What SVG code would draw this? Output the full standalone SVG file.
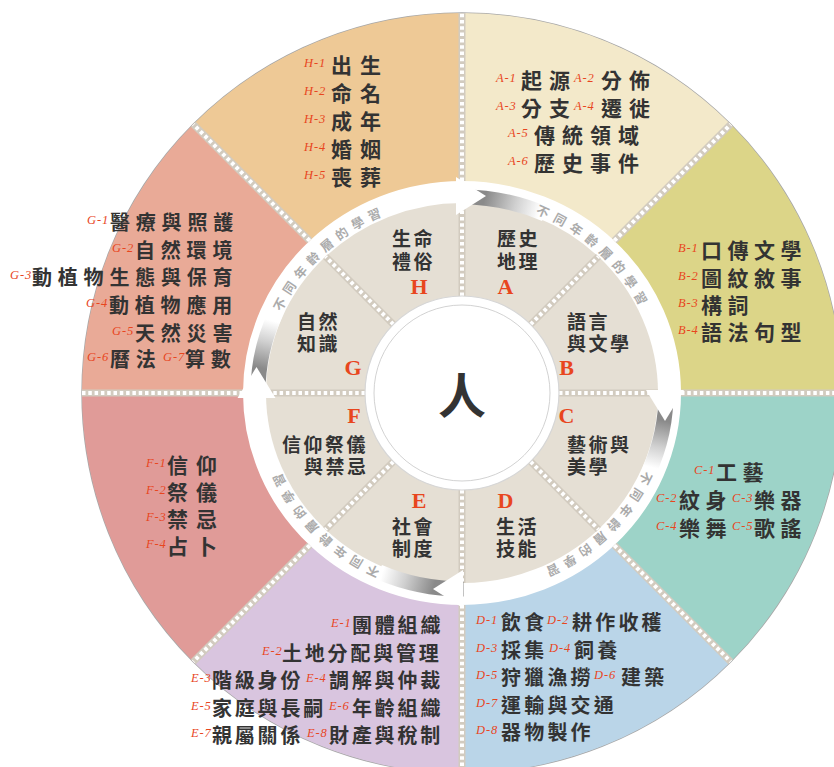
<svg xmlns="http://www.w3.org/2000/svg" xmlns:xlink="http://www.w3.org/1999/xlink" width="834" height="767" viewBox="0 0 834 767">
<style>
.t{font-family:"Noto Sans CJK TC","Noto Sans CJK SC",sans-serif;font-weight:700;fill:#333}
.lb{font-family:"Liberation Serif",serif;font-style:italic;font-size:12.5px;fill:#e8461e;letter-spacing:0.9px}
.in{font-size:19px;letter-spacing:2.5px}
.ltr{font-family:"Liberation Serif",serif;font-weight:700;font-size:22px;fill:#e8461e;text-anchor:middle}
.s28{font-size:21px;letter-spacing:8px}
.s27{font-size:21px;letter-spacing:7px}
.s26{font-size:21px;letter-spacing:5.5px}
.s25{font-size:20px;letter-spacing:5.8px}
.s23{font-size:20px;letter-spacing:3.2px}
.s22{font-size:20px;letter-spacing:2.8px}
.wedge{fill:#e5dfd4}
.sepb{stroke:#d2cbbf;stroke-width:7;fill:none}
.sepd{stroke:#fff;stroke-width:4;stroke-dasharray:3.5 2.8;fill:none}
.arrow{fill:#fff}
.ringt{font-family:"Noto Sans CJK TC",sans-serif;font-weight:700;font-size:12.5px;fill:#ababab;letter-spacing:6px}
</style>
<defs>
<linearGradient id="gT" gradientUnits="userSpaceOnUse" x1="485" y1="197" x2="540" y2="212"><stop offset="0" stop-color="#8a8a8a"/><stop offset="0.55" stop-color="#d0d0d0"/><stop offset="1" stop-color="#fff"/></linearGradient>
<linearGradient id="gR" gradientUnits="userSpaceOnUse" x1="665" y1="421" x2="654" y2="468"><stop offset="0" stop-color="#8a8a8a"/><stop offset="0.55" stop-color="#d0d0d0"/><stop offset="1" stop-color="#fff"/></linearGradient>
<linearGradient id="gB" gradientUnits="userSpaceOnUse" x1="433" y1="589" x2="382" y2="574"><stop offset="0" stop-color="#8a8a8a"/><stop offset="0.55" stop-color="#d0d0d0"/><stop offset="1" stop-color="#fff"/></linearGradient>
<linearGradient id="gL" gradientUnits="userSpaceOnUse" x1="257" y1="367" x2="269" y2="320"><stop offset="0" stop-color="#8a8a8a"/><stop offset="0.55" stop-color="#d0d0d0"/><stop offset="1" stop-color="#fff"/></linearGradient>
<path id="ringPath" d="M462 200 A199 193 0 1 1 462 586 A199 193 0 1 1 462 200 Z"/>
</defs>

<circle cx="462" cy="393" r="380" fill="none" stroke="#a8a8a8" stroke-width="1.4"/>

<g id="node-A">
<path d="M462 13 A380 380 0 0 1 730.70 124.30 L614.3 240.7 A219 212 0 0 0 462 181 Z" fill="#f3e9ca"/>
<path class="wedge" d="M462 393 L462 203 A196 190 0 0 1 598.42 256.58 Z"/>
<text class="t in" x="497" y="246">歷史</text>
<text class="t in" x="497" y="269">地理</text>
<text class="ltr" x="505.5" y="293.5">A</text>
<text class="lb" x="496" y="82">A-1</text><text class="t s27" x="521" y="88">起源</text>
<text class="lb" x="574" y="82">A-2</text><text class="t s27" x="601" y="88">分佈</text>
<text class="lb" x="496" y="110">A-3</text><text class="t s27" x="521" y="116">分支</text>
<text class="lb" x="574" y="110">A-4</text><text class="t s27" x="601" y="116">遷徙</text>
<text class="lb" x="508" y="137">A-5</text><text class="t s27" x="534" y="143">傳統領域</text>
<text class="lb" x="508" y="165">A-6</text><text class="t s27" x="534" y="171">歷史事件</text>
</g>

<g id="node-B">
<path d="M730.70 124.30 A380 380 0 0 1 842 393 L681 393 A219 212 0 0 0 614.3 240.7 Z" fill="#dcd588"/>
<path class="wedge" d="M462 393 L598.42 256.58 A196 190 0 0 1 658 393 Z"/>
<text class="t in" x="567" y="329">語言</text>
<text class="t in" x="567" y="351">與文學</text>
<text class="ltr" x="566.5" y="375">B</text>
<text class="lb" x="678" y="252">B-1</text><text class="t s26" x="701" y="258">口傳文學</text>
<text class="lb" x="678" y="280">B-2</text><text class="t s26" x="701" y="286">圖紋敘事</text>
<text class="lb" x="678" y="307">B-3</text><text class="t s26" x="701" y="313">構詞</text>
<text class="lb" x="678" y="334">B-4</text><text class="t s26" x="701" y="340">語法句型</text>
</g>

<g id="node-C">
<path d="M842 393 A380 380 0 0 1 730.70 661.70 L614.3 545.3 A219 212 0 0 0 681 393 Z" fill="#9dd3c8"/>
<path class="wedge" d="M462 393 L658 393 A196 190 0 0 1 598.42 529.42 Z"/>
<text class="ltr" x="566.5" y="423">C</text>
<text class="t in" x="567" y="452">藝術與</text>
<text class="t in" x="567" y="474">美學</text>
<text class="lb" x="694" y="474">C-1</text><text class="t s26" x="716" y="480">工藝</text>
<text class="lb" x="656" y="502">C-2</text><text class="t s26" x="679" y="508">紋身</text>
<text class="lb" x="732" y="502">C-3</text><text class="t s26" x="754" y="508">樂器</text>
<text class="lb" x="656" y="530">C-4</text><text class="t s26" x="679" y="536">樂舞</text>
<text class="lb" x="732" y="530">C-5</text><text class="t s26" x="754" y="536">歌謠</text>
</g>

<g id="node-D">
<path d="M730.70 661.70 A380 380 0 0 1 462 773 L462 605 A219 212 0 0 0 614.3 545.3 Z" fill="#bad5e8"/>
<path class="wedge" d="M462 393 L598.42 529.42 A196 190 0 0 1 462 583 Z"/>
<text class="ltr" x="505.5" y="508">D</text>
<text class="t in" x="496" y="534">生活</text>
<text class="t in" x="496" y="556">技能</text>
<text class="lb" x="476" y="624">D-1</text><text class="t s23" x="501" y="630">飲食</text>
<text class="lb" x="547" y="624">D-2</text><text class="t s23" x="572" y="630">耕作收穫</text>
<text class="lb" x="476" y="652">D-3</text><text class="t s23" x="501" y="658">採集</text>
<text class="lb" x="549" y="652">D-4</text><text class="t s23" x="574" y="658">飼養</text>
<text class="lb" x="476" y="679">D-5</text><text class="t s23" x="501" y="685">狩獵漁撈</text>
<text class="lb" x="594" y="679">D-6</text><text class="t s23" x="621" y="685">建築</text>
<text class="lb" x="476" y="707">D-7</text><text class="t s23" x="501" y="713">運輸與交通</text>
<text class="lb" x="476" y="734">D-8</text><text class="t s23" x="501" y="740">器物製作</text>
</g>

<g id="node-E">
<path d="M462 773 A380 380 0 0 1 193.30 661.70 L309.7 545.3 A219 212 0 0 0 462 605 Z" fill="#d9c5df"/>
<path class="wedge" d="M462 393 L462 583 A196 190 0 0 1 325.58 529.42 Z"/>
<text class="ltr" x="419" y="508">E</text>
<text class="t in" x="392" y="534">社會</text>
<text class="t in" x="392" y="556">制度</text>
<text class="lb" x="331" y="627">E-1</text><text class="t s22" x="352" y="633">團體組織</text>
<text class="lb" x="262" y="655">E-2</text><text class="t s22" x="282" y="661">土地分配與管理</text>
<text class="lb" x="191" y="682">E-3</text><text class="t s22" x="212" y="688">階級身份</text>
<text class="lb" x="306" y="682">E-4</text><text class="t s22" x="329" y="688">調解與仲裁</text>
<text class="lb" x="191" y="710">E-5</text><text class="t s22" x="212" y="716">家庭與長嗣</text>
<text class="lb" x="329" y="710">E-6</text><text class="t s22" x="352" y="716">年齡組織</text>
<text class="lb" x="191" y="737">E-7</text><text class="t s22" x="212" y="743">親屬關係</text>
<text class="lb" x="307" y="737">E-8</text><text class="t s22" x="329" y="743">財產與稅制</text>
</g>

<g id="node-F">
<path d="M193.30 661.70 A380 380 0 0 1 82 393 L243 393 A219 212 0 0 0 309.7 545.3 Z" fill="#e09b98"/>
<path class="wedge" d="M462 393 L325.58 529.42 A196 190 0 0 1 266 393 Z"/>
<text class="ltr" x="354" y="423">F</text>
<text class="t in" x="282" y="452">信仰祭儀</text>
<text class="t in" x="304" y="474">與禁忌</text>
<text class="lb" x="146" y="467">F-1</text><text class="t s28" x="167" y="473">信仰</text>
<text class="lb" x="146" y="494">F-2</text><text class="t s28" x="167" y="500">祭儀</text>
<text class="lb" x="146" y="521">F-3</text><text class="t s28" x="167" y="527">禁忌</text>
<text class="lb" x="146" y="548">F-4</text><text class="t s28" x="167" y="554">占卜</text>
</g>

<g id="node-G">
<path d="M82 393 A380 380 0 0 1 193.30 124.30 L309.7 240.7 A219 212 0 0 0 243 393 Z" fill="#e9aa97"/>
<path class="wedge" d="M462 393 L266 393 A196 190 0 0 1 325.58 256.58 Z"/>
<text class="t in" x="297" y="329">自然</text>
<text class="t in" x="297" y="351">知識</text>
<text class="ltr" x="353" y="375">G</text>
<text class="lb" x="87" y="224">G-1</text><text class="t s25" x="110" y="230">醫療與照護</text>
<text class="lb" x="112" y="252">G-2</text><text class="t s25" x="135" y="258">自然環境</text>
<text class="lb" x="10" y="279">G-3</text><text class="t s25" x="32" y="285">動植物生態與保育</text>
<text class="lb" x="86" y="307">G-4</text><text class="t s25" x="109" y="313">動植物應用</text>
<text class="lb" x="112" y="335">G-5</text><text class="t s25" x="135" y="341">天然災害</text>
<text class="lb" x="87" y="361">G-6</text><text class="t s25" x="110" y="367">曆法</text>
<text class="lb" x="163" y="361">G-7</text><text class="t s25" x="185" y="367">算數</text>
</g>

<g id="node-H">
<path d="M193.30 124.30 A380 380 0 0 1 462 13 L462 181 A219 212 0 0 0 309.7 240.7 Z" fill="#eec996"/>
<path class="wedge" d="M462 393 L325.58 256.58 A196 190 0 0 1 462 203 Z"/>
<text class="t in" x="392" y="246">生命</text>
<text class="t in" x="392" y="269">禮俗</text>
<text class="ltr" x="419" y="293.5">H</text>
<text class="lb" x="304" y="67">H-1</text><text class="t s28" x="331" y="73">出生</text>
<text class="lb" x="304" y="95">H-2</text><text class="t s28" x="331" y="101">命名</text>
<text class="lb" x="304" y="123">H-3</text><text class="t s28" x="331" y="129">成年</text>
<text class="lb" x="304" y="151">H-4</text><text class="t s28" x="331" y="157">婚姻</text>
<text class="lb" x="304" y="179">H-5</text><text class="t s28" x="331" y="185">喪葬</text>
</g>

<g id="dividers">
<path class="sepb" d="M462 181 L462 13 M614.3 240.7 L730.70 124.30 M681 393 L842 393 M614.3 545.3 L730.70 661.70 M462 605 L462 773 M309.7 545.3 L193.30 661.70 M243 393 L82 393 M309.7 240.7 L193.30 124.30"/>
<path class="sepd" d="M462 181 L462 13 M614.3 240.7 L730.70 124.30 M681 393 L842 393 M614.3 545.3 L730.70 661.70 M462 605 L462 773 M309.7 545.3 L193.30 661.70 M243 393 L82 393 M309.7 240.7 L193.30 124.30"/>
<path class="sepb" d="M462 296 L462 203 M530.59 324.41 L598.42 256.58 M559 393 L658 393 M530.59 461.59 L598.42 529.42 M462 490 L462 583 M393.41 461.59 L325.58 529.42 M365 393 L266 393 M393.41 324.41 L325.58 256.58"/>
<path class="sepd" d="M462 296 L462 203 M530.59 324.41 L598.42 256.58 M559 393 L658 393 M530.59 461.59 L598.42 529.42 M462 490 L462 583 M393.41 461.59 L325.58 529.42 M365 393 L266 393 M393.41 324.41 L325.58 256.58"/>
</g>

<g id="connectors">
<path d="M456.7 197 A204 196 0 0 1 545 214" fill="none" stroke="url(#gT)" stroke-width="15"/>
<path d="M666 390 A204 196 0 0 1 648.4 472.7" fill="none" stroke="url(#gR)" stroke-width="15"/>
<path d="M463.5 589 A204 196 0 0 1 379 572" fill="none" stroke="url(#gB)" stroke-width="15"/>
<path d="M258 397.5 A204 196 0 0 1 275.6 313.3" fill="none" stroke="url(#gL)" stroke-width="15"/>
<polygon class="arrow" points="456,177 456,215 486,196"/>
<polygon class="arrow" points="646,390 684,390 665,421"/>
<polygon class="arrow" points="463,570 463,608 433,589"/>
<polygon class="arrow" points="237.5,398 275.5,398 256.5,367"/>
<text class="ringt" text-anchor="middle"><textPath xlink:href="#ringPath" startOffset="12.1%">不同年齡層的學習</textPath></text>
<text class="ringt" text-anchor="middle"><textPath xlink:href="#ringPath" startOffset="37.5%">不同年齡層的學習</textPath></text>
<text class="ringt" text-anchor="middle"><textPath xlink:href="#ringPath" startOffset="62.8%">不同年齡層的學習</textPath></text>
<text class="ringt" text-anchor="middle"><textPath xlink:href="#ringPath" startOffset="87.8%">不同年齡層的學習</textPath></text>
</g>

<g id="center">
<circle cx="462" cy="393" r="97" fill="#fff" stroke="#d6d6d6" stroke-width="1.2"/>
<circle cx="462" cy="393" r="88" fill="none" stroke="#c6c6c6" stroke-width="0.8"/>
<text class="t" x="462" y="413" font-size="48" text-anchor="middle">人</text>
</g>
</svg>
